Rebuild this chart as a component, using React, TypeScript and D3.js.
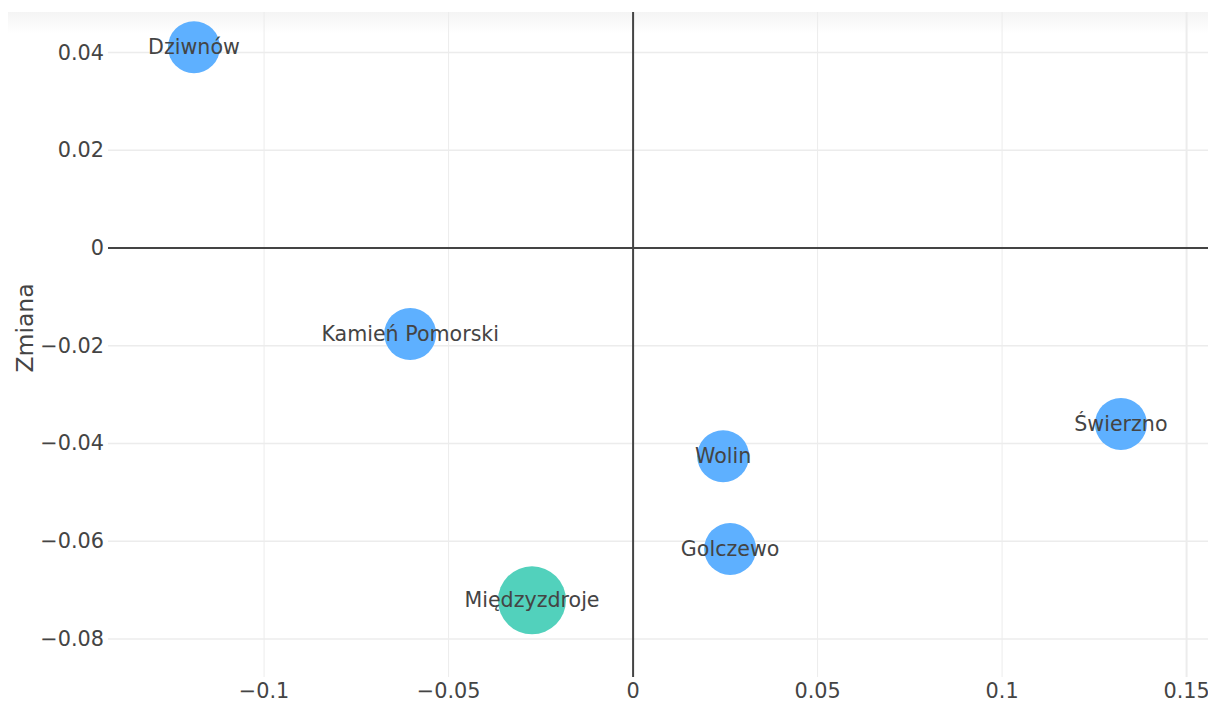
import React from "react";
import * as d3 from "d3";

const names = ["Dziwnów", "Kamień Pomorski", "Wolin", "Golczewo", "Świerzno", "Międzyzdroje"];
const xValues = [-0.119, -0.0604, 0.0244, 0.0263, 0.1322, -0.0274];
const yValues = [0.0411, -0.0176, -0.0426, -0.0616, -0.036, -0.0721];
const sizes = [1, 1, 1, 1, 1, 1.71];
const groups = ["other", "other", "other", "other", "other", "highlight"];
const xTicks = [-0.1, -0.05, 0, 0.05, 0.1, 0.15];
const yTicks = [0.04, 0.02, 0, -0.02, -0.04, -0.06, -0.08];
const yTitle = "Zmiana";

const W = 1208;
const H = 702;
const left = 108;
const right = 1208;
const top = 12;
const bottom = 677;

const fmt = (v: number) => (v === 0 ? "0" : String(v).replace("-", "\u2212"));

export default function App() {
  const x = d3.scaleLinear().domain([-0.1423, 0.1558]).range([left, right]);
  const y = d3.scaleLinear().domain([-0.0878, 0.0483]).range([bottom, top]);
  const r = d3.scaleSqrt().domain([0, 1]).range([0, 26]);
  const color = d3.scaleOrdinal<string, string>().domain(["other", "highlight"]).range(["#5eb0ff", "#52d1bc"]);
  const font = "Verdana, 'DejaVu Sans', sans-serif";
  const pts = names.map((n, i) => ({ n, x: xValues[i], y: yValues[i], s: sizes[i], g: groups[i] }));
  return (
    <svg width={W} height={H} style={{ position: "absolute", left: 0, top: 0, background: "#fff" }} fontFamily={font}>
      <defs>
        <linearGradient id="shade" x1="0" y1="0" x2="0" y2="1">
          <stop offset="0" stopColor="#f4f4f4" />
          <stop offset="1" stopColor="#ffffff" />
        </linearGradient>
      </defs>
      <rect x={left - 100} y={top} width={right - left + 100} height={22} fill="url(#shade)" />
      {xTicks.map((t) => (
        <line key={"gx" + t} x1={x(t)} x2={x(t)} y1={top} y2={bottom} stroke="#ececec" strokeWidth={t === 0.15 ? 2 : 1} />
      ))}
      {yTicks.map((t) => (
        <line key={"gy" + t} x1={left} x2={right} y1={y(t)} y2={y(t)} stroke="#ececec" strokeWidth={1.5} />
      ))}
      <line x1={x(0)} x2={x(0)} y1={top} y2={bottom} stroke="#444" strokeWidth={2} />
      <line x1={left} x2={right} y1={y(0)} y2={y(0)} stroke="#444" strokeWidth={2} />
      {pts.map((p) => (
        <circle key={"c" + p.n} cx={x(p.x)} cy={y(p.y)} r={r(p.s)} fill={color(p.g)} />
      ))}
      {pts.map((p) => (
        <text key={"t" + p.n} x={x(p.x)} y={y(p.y)} textAnchor="middle" dominantBaseline="central" fontSize={20.6} fill="#444">
          {p.n}
        </text>
      ))}
      {yTicks.map((t) => (
        <text key={"ty" + t} x={104} y={y(t)} textAnchor="end" dominantBaseline="central" fontSize={20.8} fill="#444">
          {fmt(t)}
        </text>
      ))}
      {xTicks.map((t) => (
        <text key={"tx" + t} x={x(t)} y={698} textAnchor="middle" fontSize={20.8} fill="#444">
          {fmt(t)}
        </text>
      ))}
      <text transform={`translate(33,328) rotate(-90)`} textAnchor="middle" fontSize={23.5} fill="#444">
        {yTitle}
      </text>
    </svg>
  );
}
